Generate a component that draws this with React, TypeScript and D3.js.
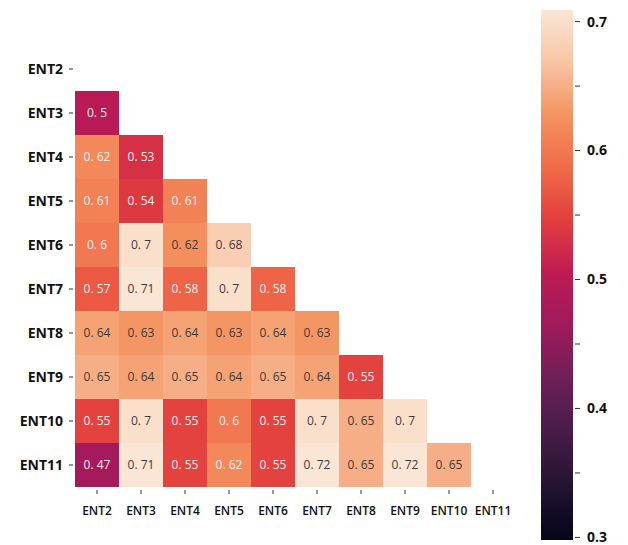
import React from 'react';
import * as d3 from 'd3';

const labels = ['ENT2', 'ENT3', 'ENT4', 'ENT5', 'ENT6', 'ENT7', 'ENT8', 'ENT9', 'ENT10', 'ENT11'];

// lower triangle, row i holds values against columns 0..i-1
const rows: number[][] = [
  [],
  [0.5],
  [0.618, 0.53],
  [0.61, 0.54, 0.61],
  [0.6, 0.7, 0.624, 0.68],
  [0.57, 0.71, 0.58, 0.7, 0.58],
  [0.64, 0.63, 0.64, 0.63, 0.64, 0.63],
  [0.65, 0.64, 0.65, 0.64, 0.65, 0.64, 0.55],
  [0.55, 0.7, 0.55, 0.6, 0.55, 0.7, 0.65, 0.7],
  [0.47, 0.71, 0.55, 0.618, 0.55, 0.72, 0.65, 0.72, 0.65],
];

const cbTicks = [0.3, 0.4, 0.5, 0.6, 0.7];
const cbMinor = [0.35, 0.45, 0.55, 0.65];

// approx. seaborn "rocket", tuned to the picture
const rocketStops = ['#03051a', '#221331', '#451c47', '#6c1f56', '#9e1a5b', '#bc1a54', '#e23c3e', '#f06a48', '#f4925f', '#f8c4a4', '#fbe6d6'];
const rocket = d3.piecewise(d3.interpolateRgb, rocketStops);

const vmin = 0.298;
const vmax = 0.709;
const textCut = 0.621; // above this the annotation turns dark

const App = () => {
  const left = 75;
  const top = 47;
  const cell = 44;
  const n = labels.length;

  const x = d3.scaleBand().domain(labels).range([left, left + cell * n]);
  const y = d3.scaleBand().domain(labels).range([top, top + cell * n]);
  const color = d3.scaleSequential((t: number) => rocket(t)).domain([vmin, vmax]).clamp(true);

  const cbX = 541;
  const cbW = 32;
  const cbY = d3.scaleLinear().domain([vmin, vmax]).range([540, 10]);

  const cells = rows.flatMap((r, i) => r.map((v, j) => ({ row: labels[i], col: labels[j], v })));
  const fmt = (v: number) => d3.format('.2~f')(v).replace('.', '. ');

  const font = '"Open Sans", "DejaVu Sans", sans-serif';
  const stops = d3.range(0, 1.0001, 0.05);

  return (
    <svg width={628} height={545} style={{ position: 'absolute', left: 0, top: 0, background: '#fff' }} fontFamily={font}>
      <defs>
        <linearGradient id="cb" x1="0" y1="1" x2="0" y2="0">
          {stops.map((t) => (
            <stop key={t} offset={t} stopColor={rocket(t)} />
          ))}
        </linearGradient>
      </defs>

      {cells.map((c) => (
        <g key={c.row + c.col}>
          <rect x={x(c.col)} y={y(c.row)} width={x.bandwidth()} height={y.bandwidth()} fill={color(c.v) as string} />
          <text
            x={(x(c.col) as number) + x.bandwidth() / 2}
            y={(y(c.row) as number) + y.bandwidth() / 2}
            dy="0.35em"
            textAnchor="middle"
            fontSize={12}
            fill={c.v > textCut ? '#403a36' : '#fbeef0'}
          >
            {fmt(c.v)}
          </text>
        </g>
      ))}

      {labels.map((l) => {
        const cy = (y(l) as number) + y.bandwidth() / 2;
        return (
          <g key={'y' + l}>
            <line x1={left - 6} x2={left - 2} y1={cy} y2={cy} stroke="#333" strokeWidth={1} />
            <text x={left - 12} y={cy} dy="0.35em" textAnchor="end" fontSize={14} fontWeight="bold" fill="#111">
              {l}
            </text>
          </g>
        );
      })}

      {labels.map((l) => {
        const cx = (x(l) as number) + x.bandwidth() / 2;
        const by = top + cell * n;
        return (
          <g key={'x' + l}>
            <line x1={cx} x2={cx} y1={by + 3} y2={by + 7} stroke="#333" strokeWidth={1} />
            <text x={cx} y={by + 24} dy="0.35em" textAnchor="middle" fontSize={12} fontWeight={600} fill="#111">
              {l}
            </text>
          </g>
        );
      })}

      <rect x={cbX} y={cbY(vmax)} width={cbW} height={cbY(vmin) - cbY(vmax)} fill="url(#cb)" />
      {cbMinor.map((t) => (
        <line key={'m' + t} x1={cbX + cbW + 2} x2={cbX + cbW + 7} y1={cbY(t)} y2={cbY(t)} stroke="#333" />
      ))}
      {cbTicks.map((t) => (
        <g key={'t' + t}>
          <line x1={cbX + cbW + 2} x2={cbX + cbW + 7} y1={cbY(t)} y2={cbY(t)} stroke="#333" />
          <text x={cbX + cbW + 14} y={cbY(t)} dy="0.35em" fontSize={14} fontWeight="bold" fill="#111">
            {t.toFixed(1)}
          </text>
        </g>
      ))}
    </svg>
  );
};

export default App;
